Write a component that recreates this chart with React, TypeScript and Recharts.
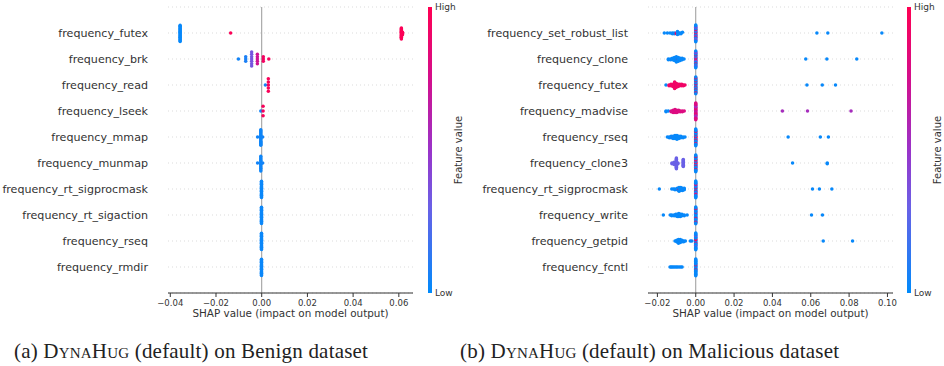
import React from 'react';
import { ScatterChart, Scatter, XAxis, YAxis, CartesianGrid, ReferenceLine } from 'recharts';

// [shap value, feature value (0 = low, 1 = high), number of dots]
type Group = [number, number, number];

const benignFeatures = [
  'frequency_futex',
  'frequency_brk',
  'frequency_read',
  'frequency_lseek',
  'frequency_mmap',
  'frequency_munmap',
  'frequency_rt_sigprocmask',
  'frequency_rt_sigaction',
  'frequency_rseq',
  'frequency_rmdir',
];
const benignTicks = [-0.04, -0.02, 0, 0.02, 0.04, 0.06];
const benignDomain: [number, number] = [-0.041, 0.0662];
const benignPoints: Group[][] = [
  [[-0.0357, 0.02, 20], [-0.0136, 0.98, 1], [0.0611, 0.98, 14], [0.0616, 0.98, 4]],
  [[-0.0102, 0.05, 1], [-0.007, 0.08, 3], [-0.0044, 0.35, 7], [-0.0019, 0.72, 5], [0.0007, 0.93, 3], [0.0031, 0.96, 1]],
  [[0.0016, 0.05, 1], [0.0029, 0.97, 5]],
  [[-0.0004, 0.05, 1], [0.0006, 0.96, 3]],
  [[-0.0018, 0.05, 1], [-0.0004, 0.04, 16], [0.0004, 0.05, 1]],
  [[-0.0018, 0.05, 1], [-0.0004, 0.04, 12], [0.0004, 0.05, 1]],
  [[-0.0001, 0.03, 22]],
  [[-0.0001, 0.03, 22]],
  [[-0.0001, 0.03, 22]],
  [[-0.0001, 0.03, 22]],
];

const maliciousFeatures = [
  'frequency_set_robust_list',
  'frequency_clone',
  'frequency_futex',
  'frequency_madvise',
  'frequency_rseq',
  'frequency_clone3',
  'frequency_rt_sigprocmask',
  'frequency_write',
  'frequency_getpid',
  'frequency_fcntl',
];
const maliciousTicks = [-0.02, 0, 0.02, 0.04, 0.06, 0.08, 0.1];
const maliciousDomain: [number, number] = [-0.0249, 0.1029];
const maliciousPoints: Group[][] = [
  [
    [-0.0164, 0.02, 1], [-0.0148, 0.02, 1], [-0.0134, 0.02, 1], [-0.0122, 0.02, 2], [-0.0112, 0.02, 2],
    [-0.0101, 0.98, 2], [-0.0095, 0.02, 3], [-0.0086, 0.02, 2], [-0.0077, 0.02, 2], [-0.0069, 0.02, 1],
    [0, 0.4, 2], [0, 0.98, 2], [0, 0.02, 4], [0, 0.45, 2], [0, 0.98, 2], [0, 0.02, 4], [0, 0.4, 4], [0, 0.02, 4],
    [0.0632, 0.02, 1], [0.0689, 0.02, 1], [0.0971, 0.02, 1],
  ],
  [
    [-0.0143, 0.02, 2], [-0.0132, 0.02, 2], [-0.0122, 0.02, 3], [-0.0111, 0.02, 5], [-0.0101, 0.02, 8],
    [-0.0091, 0.98, 1], [-0.0091, 0.02, 5], [-0.0081, 0.02, 4], [-0.0071, 0.02, 3], [-0.0061, 0.02, 1],
    [0, 0.02, 3], [0, 0.98, 2], [0, 0.4, 3], [0, 0.02, 4], [0, 0.98, 2], [0, 0.02, 4], [0, 0.45, 3], [0, 0.02, 3],
    [0.0574, 0.02, 1], [0.0684, 0.02, 1], [0.084, 0.02, 1],
  ],
  [
    [-0.0155, 0.02, 1], [-0.0139, 0.92, 2], [-0.0129, 0.92, 3], [-0.0119, 0.92, 4], [-0.011, 0.92, 10],
    [-0.0101, 0.92, 6], [-0.0092, 0.92, 4], [-0.0083, 0.92, 3], [-0.0073, 0.92, 3], [-0.0064, 0.92, 2], [-0.0056, 0.92, 1],
    [0, 0.02, 4], [0, 0.98, 2], [0, 0.02, 6], [0, 0.98, 2], [0, 0.02, 6], [0, 0.98, 2], [0, 0.02, 2],
    [0.058, 0.02, 1], [0.066, 0.02, 1], [0.0729, 0.02, 1],
  ],
  [
    [-0.0155, 0.02, 2], [-0.0143, 0.02, 1], [-0.0128, 0.78, 2], [-0.0118, 0.55, 1], [-0.0118, 0.8, 3],
    [-0.0108, 0.8, 5], [-0.0099, 0.8, 4], [-0.0089, 0.8, 3], [-0.008, 0.8, 2], [-0.007, 0.8, 2], [-0.006, 0.8, 1],
    [0, 0.7, 6], [0, 0.85, 6], [0, 0.55, 6], [0, 0.8, 6],
    [0.0452, 0.55, 1], [0.0583, 0.55, 1], [0.081, 0.55, 1],
  ],
  [
    [-0.0148, 0.02, 1], [-0.0138, 0.02, 2], [-0.0128, 0.02, 3], [-0.0118, 0.65, 1], [-0.0118, 0.02, 3],
    [-0.0108, 0.02, 5], [-0.0098, 0.02, 6], [-0.0088, 0.02, 4], [-0.0078, 0.02, 3], [-0.0066, 0.02, 2], [-0.0056, 0.02, 1],
    [0, 0.98, 4], [0, 0.02, 4], [0, 0.98, 2], [0, 0.02, 6], [0, 0.98, 2], [0, 0.02, 6],
    [0.0482, 0.02, 1], [0.065, 0.02, 1], [0.0692, 0.02, 1],
  ],
  [
    [-0.0124, 0.3, 2], [-0.0113, 0.3, 4], [-0.0101, 0.3, 16], [-0.0093, 0.3, 2], [-0.0065, 0.3, 11],
    [0, 0.98, 4], [0, 0.02, 4], [0, 0.98, 3], [0, 0.02, 6], [0, 0.98, 2], [0, 0.02, 5],
    [0.0505, 0.02, 1], [0.0686, 0.02, 2],
  ],
  [
    [-0.019, 0.02, 1], [-0.0125, 0.02, 1], [-0.0116, 0.02, 1], [-0.0108, 0.02, 2], [-0.0096, 0.02, 3],
    [-0.0087, 0.98, 2], [-0.0087, 0.02, 4], [-0.0078, 0.02, 5], [-0.0069, 0.02, 4], [-0.006, 0.02, 3],
    [0, 0.02, 4], [0, 0.98, 2], [0, 0.02, 6], [0, 0.45, 2], [0, 0.98, 2], [0, 0.02, 8],
    [0.0609, 0.02, 1], [0.0645, 0.02, 1], [0.071, 0.02, 1],
  ],
  [
    [-0.0169, 0.02, 1], [-0.0133, 0.02, 1], [-0.0125, 0.02, 2], [-0.0113, 0.02, 2], [-0.0104, 0.02, 3],
    [-0.0096, 0.02, 4], [-0.0088, 0.02, 5], [-0.008, 0.02, 4], [-0.0072, 0.02, 3], [-0.006, 0.02, 2], [-0.0045, 0.02, 1],
    [0, 0.02, 8], [0, 0.98, 2], [0, 0.02, 8], [0, 0.98, 2], [0, 0.02, 4],
    [0.0604, 0.02, 1], [0.0661, 0.02, 1],
  ],
  [
    [-0.0108, 0.02, 1], [-0.0099, 0.02, 3], [-0.009, 0.02, 6], [-0.0081, 0.02, 5], [-0.0072, 0.02, 3],
    [-0.0063, 0.02, 2], [-0.0054, 0.02, 1], [-0.0028, 0.02, 1], [-0.002, 0.02, 1],
    [0, 0.02, 4], [0, 0.98, 3], [0, 0.02, 8], [0, 0.4, 2], [0, 0.02, 7],
    [0.0665, 0.02, 1], [0.0818, 0.02, 1],
  ],
  [
    [-0.0134, 0.02, 1], [-0.0128, 0.02, 1], [-0.0122, 0.02, 1], [-0.0115, 0.02, 1], [-0.0108, 0.02, 1],
    [-0.0101, 0.02, 1], [-0.0094, 0.02, 1], [-0.0086, 0.02, 1], [-0.0078, 0.02, 1], [-0.0071, 0.02, 1],
    [0, 0.02, 6], [0, 0.98, 2], [0, 0.02, 10], [0, 0.02, 6],
  ],
];

// shap's red_blue colour map, approximated
const colorStops: [number, string][] = [
  [0, '#008bfb'],
  [0.3, '#6a60e6'],
  [0.5, '#9a33c9'],
  [0.75, '#d40e8c'],
  [1, '#ff0052'],
];

function hexToRgb(h: string) {
  return [1, 3, 5].map((i) => parseInt(h.slice(i, i + 2), 16));
}

function featureColor(c: number) {
  for (let i = 1; i < colorStops.length; i++) {
    const [t1, h1] = colorStops[i];
    const [t0, h0] = colorStops[i - 1];
    if (c <= t1) {
      const f = (c - t0) / (t1 - t0);
      const a = hexToRgb(h0);
      const b = hexToRgb(h1);
      return `rgb(${a.map((v, k) => Math.round(v + (b[k] - v) * f)).join(',')})`;
    }
  }
  return colorStops[colorStops.length - 1][1];
}

// same layering as shap's summary_plot: dots in one bin are stacked alternately up and down
function swarm(rows: Group[][]) {
  const out: { x: number; y: number; fill: string }[] = [];
  rows.forEach((groups, row) => {
    const pts = groups.flatMap(([x, c, n]) => Array.from({ length: n }, () => ({ x, c })));
    const lo = Math.min(...pts.map((p) => p.x));
    const hi = Math.max(...pts.map((p) => p.x));
    const quant = pts.map((p) => Math.round((100 * (p.x - lo)) / (hi - lo + 1e-8)));
    const order = pts.map((_, i) => i).sort((a, b) => quant[a] - quant[b] || a - b);
    const ys = new Array(pts.length).fill(0);
    let layer = 0;
    let last = -1;
    for (const i of order) {
      if (quant[i] !== last) layer = 0;
      ys[i] = Math.ceil(layer / 2) * ((layer % 2) * 2 - 1);
      layer += 1;
      last = quant[i];
    }
    const k = (0.9 * 0.4) / Math.max(...ys.map((v) => v + 1));
    pts.forEach((p, i) => out.push({ x: p.x, y: row + ys[i] * k, fill: featureColor(p.c) }));
  });
  return out;
}

const fmt = (v: number) => (v < 0 ? '\u2212' : '') + Math.abs(v).toFixed(2);
const font = '"DejaVu Sans", sans-serif';
const rowTicks = [0, 1, 2, 3, 4, 5, 6, 7, 8, 9];

function Beeswarm({ features, rows, ticks, domain, width, yWidth }: {
  features: string[]; rows: Group[][]; ticks: number[]; domain: [number, number]; width: number; yWidth: number;
}) {
  const data = swarm(rows);
  return (
    <ScatterChart width={width} height={330} margin={{ top: 7, right: 7, bottom: 7, left: 8 }}>
      <CartesianGrid vertical={false} stroke="#cccccc" strokeDasharray="1 3" strokeWidth={0.7} />
      <XAxis
        type="number"
        dataKey="x"
        domain={domain}
        ticks={ticks}
        allowDataOverflow
        tickFormatter={fmt}
        height={30}
        tickSize={4}
        tickMargin={3}
        stroke="#333"
        tick={{ fill: '#333', fontSize: 8.5, fontFamily: font }}
        label={{ value: 'SHAP value (impact on model output)', position: 'insideBottom', offset: 6, fill: '#333', fontSize: 10.4, fontFamily: font }}
      />
      <YAxis
        type="number"
        dataKey="y"
        domain={[-1, 10]}
        reversed
        allowDataOverflow
        ticks={rowTicks}
        interval={0}
        width={yWidth}
        axisLine={false}
        tickLine={false}
        tickSize={0}
        tickMargin={20}
        tickFormatter={(i: number) => features[Math.round(i)]}
        tick={{ fill: '#333', fontSize: 11.1, fontFamily: font }}
      />
      <ReferenceLine x={0} stroke="#999999" strokeWidth={1} />
      <Scatter
        data={data}
        isAnimationActive={false}
        shape={(p: any) => <circle cx={p.cx} cy={p.cy} r={1.75} fill={p.payload.fill} />}
      />
    </ScatterChart>
  );
}

const gradient = `linear-gradient(to top, ${colorStops.map(([t, c]) => `${c} ${t * 100}%`).join(', ')})`;

function ColorBar({ left }: { left: number }) {
  const text: React.CSSProperties = { position: 'absolute', fontFamily: font, color: '#333', whiteSpace: 'nowrap', lineHeight: 1 };
  return (
    <>
      <div style={{ position: 'absolute', left, top: 7, width: 4, height: 286, background: gradient }} />
      <div style={{ ...text, left: left + 7, top: 7, fontSize: 9, transform: 'translateY(-50%)' }}>High</div>
      <div style={{ ...text, left: left + 7, top: 293, fontSize: 9, transform: 'translateY(-50%)' }}>Low</div>
      <div style={{ ...text, left: left + 31, top: 150, fontSize: 10, transform: 'translate(-50%, -50%) rotate(-90deg)' }}>
        Feature value
      </div>
    </>
  );
}

const caption: React.CSSProperties = {
  position: 'absolute',
  top: 341,
  fontFamily: '"Liberation Serif", serif',
  fontSize: 21,
  letterSpacing: 0.2,
  lineHeight: '21px',
  color: '#222',
  whiteSpace: 'nowrap',
};

export default function App() {
  return (
    <div style={{ position: 'absolute', left: 0, top: 0, width: 944, height: 366, background: '#fff', overflow: 'hidden' }}>
      <div style={{ position: 'absolute', left: 0, top: 0 }}>
        <Beeswarm features={benignFeatures} rows={benignPoints} ticks={benignTicks} domain={benignDomain} width={420} yWidth={160} />
      </div>
      <ColorBar left={428} />
      <div style={{ position: 'absolute', left: 470, top: 0 }}>
        <Beeswarm features={maliciousFeatures} rows={maliciousPoints} ticks={maliciousTicks} domain={maliciousDomain} width={430} yWidth={170} />
      </div>
      <ColorBar left={907} />
      <div style={{ ...caption, left: 14 }}>
        (a) <span style={{ fontVariant: 'small-caps' }}>DynaHug</span> (default) on Benign dataset
      </div>
      <div style={{ ...caption, left: 460 }}>
        (b) <span style={{ fontVariant: 'small-caps' }}>DynaHug</span> (default) on Malicious dataset
      </div>
    </div>
  );
}
